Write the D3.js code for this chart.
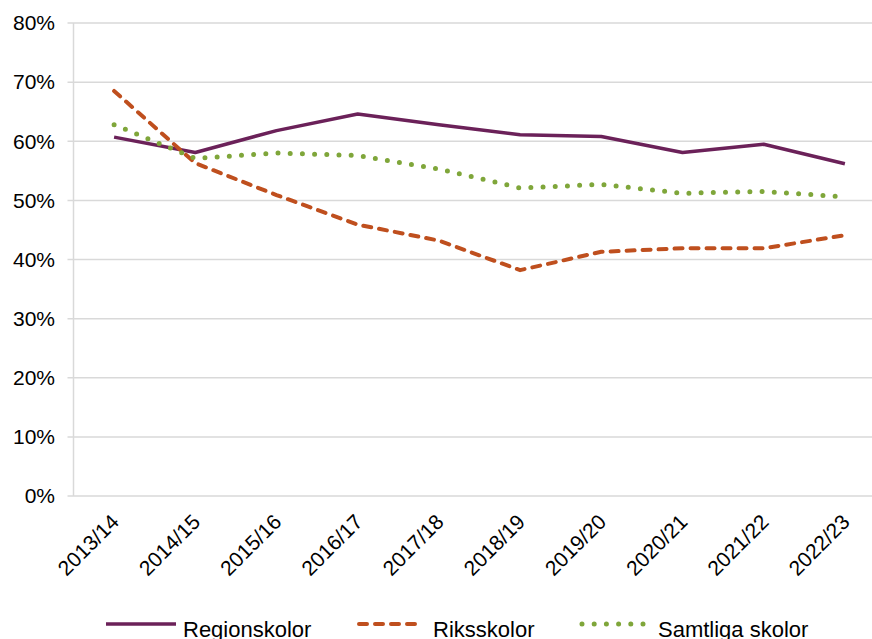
<!DOCTYPE html>
<html>
<head>
<meta charset="utf-8">
<script src="https://cdn.jsdelivr.net/npm/d3@7"></script>
<style>
  html, body { margin: 0; padding: 0; background: #fff; }
  svg { display: block; font-family: "Liberation Sans", Arial, sans-serif; }
</style>
</head>
<body>
<svg id="chart" width="872" height="639"></svg>
<script>
const categories = ["2013/14","2014/15","2015/16","2016/17","2017/18","2018/19","2019/20","2020/21","2021/22","2022/23"];
const regionskolor = [60.7, 58.1, 61.8, 64.6, 62.8, 61.1, 60.8, 58.1, 59.5, 56.2];
const riksskolor   = [68.5, 56.3, 50.9, 45.9, 43.2, 38.2, 41.3, 41.9, 41.9, 44.1];
const samtliga     = [62.8, 57.1, 58.0, 57.6, 55.3, 52.1, 52.7, 51.2, 51.5, 50.6];
const yTicks = [0, 10, 20, 30, 40, 50, 60, 70, 80];
const seriesNames = ["Regionskolor", "Riksskolor", "Samtliga skolor"];

(function () {
const series = [
  { name: seriesNames[0], values: regionskolor, color: "#6B2159", width: 3.5, dash: null, cap: "butt" },
  { name: seriesNames[1], values: riksskolor,   color: "#BF4F1E", width: 4,   dash: "8 8", cap: "round" },
  { name: seriesNames[2], values: samtliga,     color: "#7FA63A", width: 5,   dash: "0 12.2", cap: "round" }
];

const svg = d3.select("#chart");
const pLeft = 73.5, pRight = 885.5, pTop = 23, pBottom = 496;

const x = d3.scalePoint().domain(categories).range([pLeft, pRight]).padding(0.5);
const y = d3.scaleLinear().domain([0, 80]).range([pBottom, pTop]);

svg.append("g").selectAll("line").data(yTicks).join("line")
  .attr("x1", pLeft - 6).attr("x2", 872)
  .attr("y1", d => y(d)).attr("y2", d => y(d))
  .attr("stroke", "#d9d9d9").attr("stroke-width", 1.5);

svg.append("line").attr("x1", pLeft).attr("x2", pLeft).attr("y1", pTop).attr("y2", pBottom)
  .attr("stroke", "#d9d9d9").attr("stroke-width", 1.5);

svg.append("g").selectAll("text").data(yTicks).join("text")
  .attr("x", 55).attr("y", d => y(d)).attr("dy", "0.35em")
  .attr("text-anchor", "end").attr("font-size", 21).attr("fill", "#000")
  .text(d => d + "%");

svg.append("g").selectAll("text").data(categories).join("text")
  .attr("transform", d => `translate(${x(d) + 1},${pBottom + 22}) rotate(-45)`)
  .attr("text-anchor", "end").attr("dy", "0.35em")
  .attr("font-size", 21).attr("fill", "#000")
  .text(d => d);

const line = d3.line().x((d, i) => x(categories[i])).y(d => y(d));
series.forEach(s => {
  svg.append("path").datum(s.values)
    .attr("d", line).attr("fill", "none")
    .attr("stroke", s.color).attr("stroke-width", s.width)
    .attr("stroke-linecap", s.cap).attr("stroke-linejoin", "round")
    .attr("stroke-dasharray", s.dash);
});

const legendItems = [
  { s: series[0], x1: 106, x2: 176, tx: 183 },
  { s: series[1], x1: 359, x2: 420, tx: 433 },
  { s: series[2], x1: 582, x2: 646, tx: 658 }
];
const ly = 624;
legendItems.forEach(it => {
  svg.append("line").attr("x1", it.x1).attr("x2", it.x2).attr("y1", ly).attr("y2", ly)
    .attr("stroke", it.s.color).attr("stroke-width", it.s.width)
    .attr("stroke-linecap", it.s.cap).attr("stroke-dasharray", it.s.dash);
  svg.append("text").attr("x", it.tx).attr("y", ly).attr("dy", "0.57em")
    .attr("font-size", 22).attr("fill", "#000").text(it.s.name);
});
})();
</script>
</body>
</html>
